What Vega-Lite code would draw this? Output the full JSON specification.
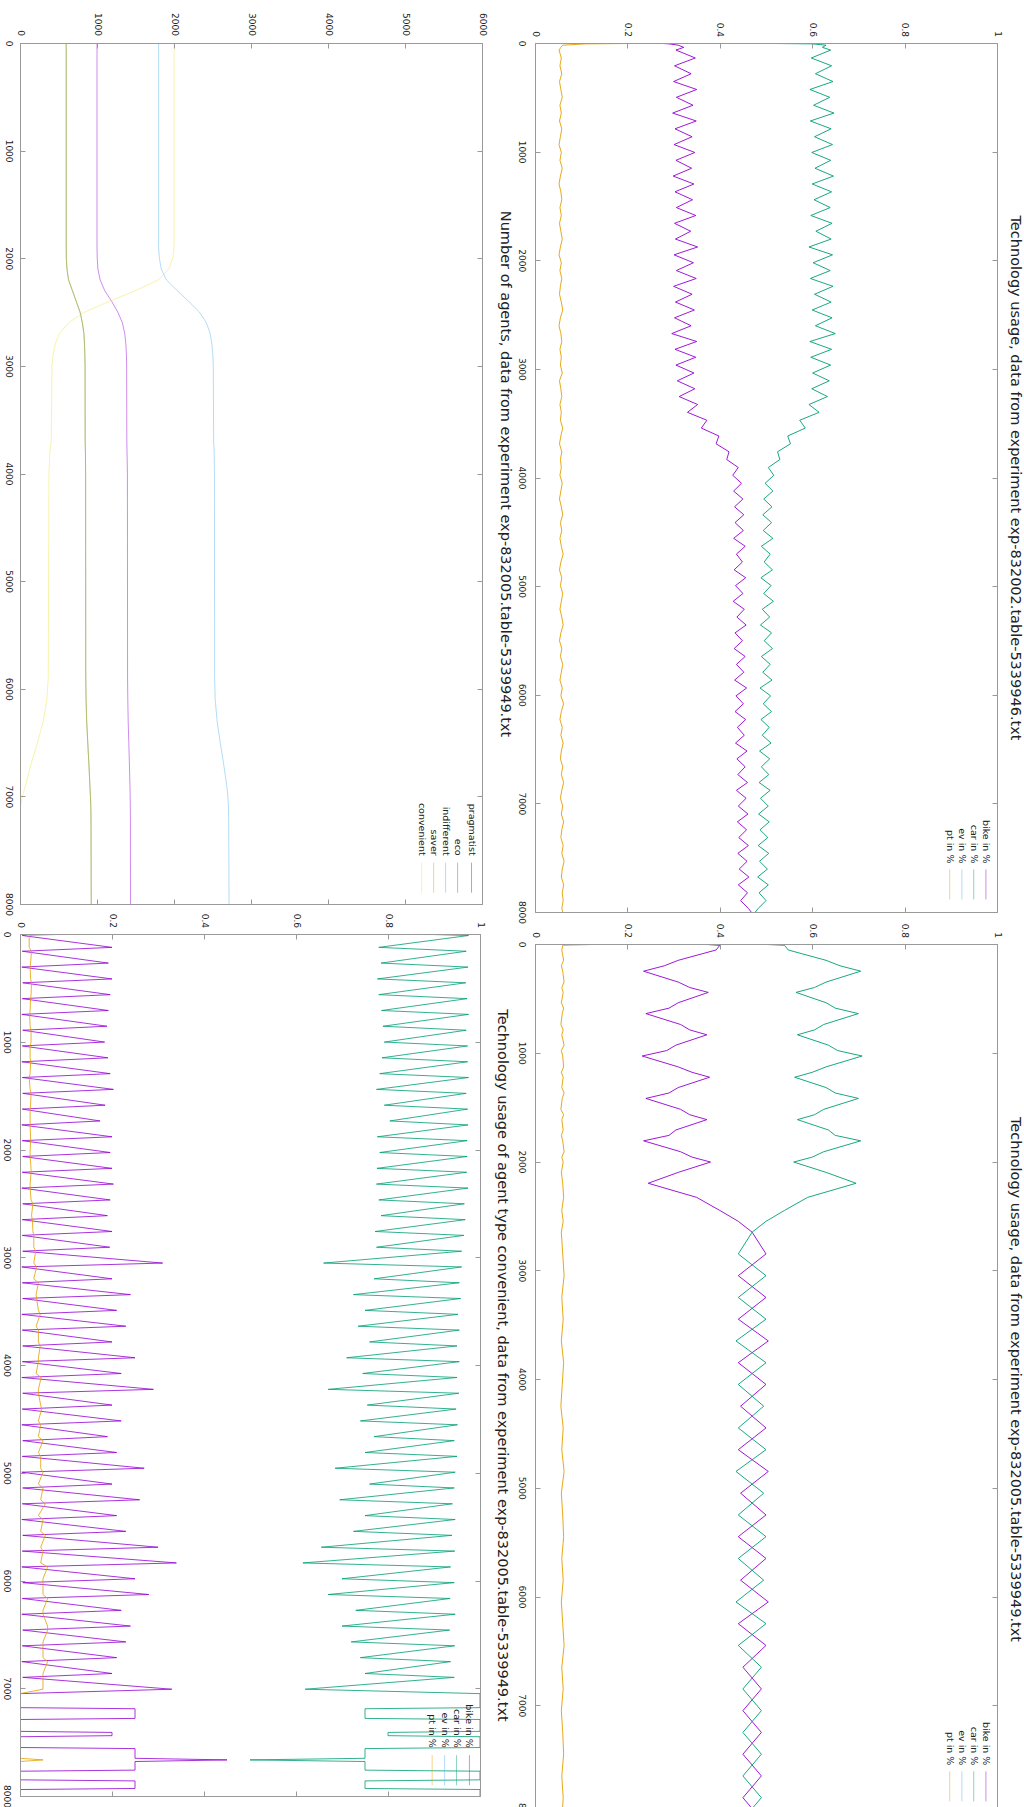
{
"$schema":"https://vega.github.io/schema/vega-lite/v6.json",
"background":"white",
"padding":{"left":1,"top":12,"right":2,"bottom":0},
"config":{"view":{"stroke":null},"axis":{"labelFont":"DejaVu Sans","labelFontSize":9,"labelColor":"#222","titleFont":"DejaVu Sans","titleFontSize":14.5,"titleFontWeight":"normal","titleColor":"#222"}},
"datasets":{
"tl":[
{"t":0,"pragmatist":1000,"eco":600,"indifferent":1800,"saver":600,"convenient":2000},
{"t":1900,"pragmatist":1000,"eco":600,"indifferent":1800,"saver":600,"convenient":2000},
{"t":2000,"pragmatist":1003,"eco":602,"indifferent":1810,"saver":602,"convenient":1983},
{"t":2100,"pragmatist":1012,"eco":610,"indifferent":1835,"saver":610,"convenient":1933},
{"t":2200,"pragmatist":1040,"eco":630,"indifferent":1900,"saver":630,"convenient":1800},
{"t":2300,"pragmatist":1100,"eco":680,"indifferent":2040,"saver":680,"convenient":1500},
{"t":2400,"pragmatist":1190,"eco":730,"indifferent":2190,"saver":730,"convenient":1160},
{"t":2500,"pragmatist":1270,"eco":780,"indifferent":2330,"saver":780,"convenient":840},
{"t":2600,"pragmatist":1330,"eco":810,"indifferent":2420,"saver":810,"convenient":630},
{"t":2700,"pragmatist":1360,"eco":830,"indifferent":2470,"saver":830,"convenient":510},
{"t":2800,"pragmatist":1375,"eco":838,"indifferent":2492,"saver":838,"convenient":457},
{"t":2900,"pragmatist":1382,"eco":842,"indifferent":2505,"saver":842,"convenient":429},
{"t":3000,"pragmatist":1385,"eco":845,"indifferent":2510,"saver":845,"convenient":415},
{"t":3700,"pragmatist":1387,"eco":846,"indifferent":2515,"saver":846,"convenient":406},
{"t":3800,"pragmatist":1390,"eco":850,"indifferent":2522,"saver":850,"convenient":388},
{"t":4000,"pragmatist":1395,"eco":852,"indifferent":2525,"saver":852,"convenient":376},
{"t":5900,"pragmatist":1397,"eco":854,"indifferent":2528,"saver":854,"convenient":367},
{"t":6100,"pragmatist":1400,"eco":858,"indifferent":2535,"saver":858,"convenient":349},
{"t":6300,"pragmatist":1405,"eco":866,"indifferent":2560,"saver":866,"convenient":303},
{"t":6500,"pragmatist":1413,"eco":880,"indifferent":2600,"saver":880,"convenient":227},
{"t":6700,"pragmatist":1421,"eco":895,"indifferent":2645,"saver":895,"convenient":144},
{"t":6900,"pragmatist":1428,"eco":908,"indifferent":2685,"saver":908,"convenient":71},
{"t":7000,"pragmatist":1431,"eco":915,"indifferent":2700,"saver":915,"convenient":30},
{"t":7100,"pragmatist":1433,"eco":920,"indifferent":2707,"saver":920,"convenient":5},
{"t":7200,"pragmatist":1434,"eco":922,"indifferent":2710,"saver":922,"convenient":0},
{"t":8000,"pragmatist":1435,"eco":925,"indifferent":2715,"saver":925,"convenient":0}
],
"tr":[
{"t":0,"bike":0.333,"car":0.333,"ev":0,"pt":0.334},
{"t":3,"bike":0.27,"car":0.48,"ev":0,"pt":0.25},
{"t":8,"bike":0.29,"car":0.6,"ev":0,"pt":0.11},
{"t":20,"bike":0.31,"car":0.63,"ev":0,"pt":0.06},
{"t":40,"bike":0.322,"car":0.622,"ev":0,"pt":0.056},
{"t":65,"bike":0.305,"car":0.64,"ev":0,"pt":0.052},
{"t":138,"bike":0.347,"car":0.598,"ev":0,"pt":0.057},
{"t":210,"bike":0.302,"car":0.642,"ev":0,"pt":0.054},
{"t":283,"bike":0.338,"car":0.607,"ev":0,"pt":0.058},
{"t":355,"bike":0.3,"car":0.645,"ev":0,"pt":0.053},
{"t":428,"bike":0.35,"car":0.595,"ev":0,"pt":0.056},
{"t":500,"bike":0.306,"car":0.638,"ev":0,"pt":0.059},
{"t":573,"bike":0.342,"car":0.603,"ev":0,"pt":0.054},
{"t":645,"bike":0.298,"car":0.647,"ev":0,"pt":0.057},
{"t":718,"bike":0.349,"car":0.596,"ev":0,"pt":0.053},
{"t":790,"bike":0.303,"car":0.641,"ev":0,"pt":0.058},
{"t":863,"bike":0.34,"car":0.605,"ev":0,"pt":0.055},
{"t":935,"bike":0.301,"car":0.644,"ev":0,"pt":0.052},
{"t":1008,"bike":0.346,"car":0.599,"ev":0,"pt":0.057},
{"t":1080,"bike":0.305,"car":0.64,"ev":0,"pt":0.054},
{"t":1153,"bike":0.339,"car":0.606,"ev":0,"pt":0.059},
{"t":1225,"bike":0.299,"car":0.646,"ev":0,"pt":0.055},
{"t":1298,"bike":0.344,"car":0.6,"ev":0,"pt":0.052},
{"t":1370,"bike":0.303,"car":0.642,"ev":0,"pt":0.056},
{"t":1443,"bike":0.341,"car":0.604,"ev":0,"pt":0.058},
{"t":1515,"bike":0.306,"car":0.639,"ev":0,"pt":0.054},
{"t":1588,"bike":0.348,"car":0.597,"ev":0,"pt":0.057},
{"t":1660,"bike":0.302,"car":0.643,"ev":0,"pt":0.053},
{"t":1733,"bike":0.337,"car":0.608,"ev":0,"pt":0.056},
{"t":1805,"bike":0.304,"car":0.641,"ev":0,"pt":0.059},
{"t":1878,"bike":0.352,"car":0.593,"ev":0,"pt":0.055},
{"t":1950,"bike":0.301,"car":0.644,"ev":0,"pt":0.052},
{"t":2023,"bike":0.343,"car":0.602,"ev":0,"pt":0.057},
{"t":2095,"bike":0.306,"car":0.639,"ev":0,"pt":0.054},
{"t":2168,"bike":0.349,"car":0.596,"ev":0,"pt":0.058},
{"t":2240,"bike":0.3,"car":0.645,"ev":0,"pt":0.055},
{"t":2313,"bike":0.34,"car":0.605,"ev":0,"pt":0.053},
{"t":2385,"bike":0.304,"car":0.641,"ev":0,"pt":0.057},
{"t":2458,"bike":0.345,"car":0.6,"ev":0,"pt":0.06},
{"t":2530,"bike":0.302,"car":0.643,"ev":0,"pt":0.055},
{"t":2603,"bike":0.338,"car":0.607,"ev":0,"pt":0.052},
{"t":2675,"bike":0.296,"car":0.65,"ev":0,"pt":0.056},
{"t":2748,"bike":0.35,"car":0.595,"ev":0,"pt":0.058},
{"t":2820,"bike":0.303,"car":0.642,"ev":0,"pt":0.054},
{"t":2893,"bike":0.348,"car":0.597,"ev":0,"pt":0.057},
{"t":2965,"bike":0.305,"car":0.64,"ev":0,"pt":0.055},
{"t":3038,"bike":0.344,"car":0.601,"ev":0,"pt":0.059},
{"t":3110,"bike":0.308,"car":0.637,"ev":0,"pt":0.053},
{"t":3183,"bike":0.346,"car":0.599,"ev":0,"pt":0.056},
{"t":3255,"bike":0.312,"car":0.633,"ev":0,"pt":0.058},
{"t":3328,"bike":0.352,"car":0.593,"ev":0,"pt":0.054},
{"t":3400,"bike":0.33,"car":0.615,"ev":0,"pt":0.057},
{"t":3473,"bike":0.372,"car":0.573,"ev":0,"pt":0.055},
{"t":3545,"bike":0.36,"car":0.585,"ev":0,"pt":0.06},
{"t":3618,"bike":0.398,"car":0.547,"ev":0,"pt":0.056},
{"t":3690,"bike":0.392,"car":0.553,"ev":0,"pt":0.053},
{"t":3763,"bike":0.42,"car":0.525,"ev":0,"pt":0.058},
{"t":3835,"bike":0.415,"car":0.53,"ev":0,"pt":0.055},
{"t":3908,"bike":0.44,"car":0.505,"ev":0,"pt":0.057},
{"t":3980,"bike":0.428,"car":0.517,"ev":0,"pt":0.054},
{"t":4053,"bike":0.447,"car":0.498,"ev":0,"pt":0.059},
{"t":4125,"bike":0.43,"car":0.515,"ev":0,"pt":0.056},
{"t":4198,"bike":0.45,"car":0.495,"ev":0,"pt":0.053},
{"t":4270,"bike":0.432,"car":0.513,"ev":0,"pt":0.057},
{"t":4343,"bike":0.452,"car":0.493,"ev":0,"pt":0.06},
{"t":4415,"bike":0.433,"car":0.512,"ev":0,"pt":0.055},
{"t":4488,"bike":0.451,"car":0.494,"ev":0,"pt":0.058},
{"t":4560,"bike":0.43,"car":0.515,"ev":0,"pt":0.054},
{"t":4633,"bike":0.455,"car":0.49,"ev":0,"pt":0.057},
{"t":4705,"bike":0.436,"car":0.509,"ev":0,"pt":0.061},
{"t":4778,"bike":0.449,"car":0.496,"ev":0,"pt":0.056},
{"t":4850,"bike":0.431,"car":0.514,"ev":0,"pt":0.053},
{"t":4923,"bike":0.456,"car":0.489,"ev":0,"pt":0.058},
{"t":4995,"bike":0.434,"car":0.511,"ev":0,"pt":0.055},
{"t":5068,"bike":0.45,"car":0.495,"ev":0,"pt":0.06},
{"t":5140,"bike":0.429,"car":0.516,"ev":0,"pt":0.057},
{"t":5213,"bike":0.453,"car":0.492,"ev":0,"pt":0.054},
{"t":5285,"bike":0.437,"car":0.508,"ev":0,"pt":0.058},
{"t":5358,"bike":0.457,"car":0.488,"ev":0,"pt":0.061},
{"t":5430,"bike":0.433,"car":0.512,"ev":0,"pt":0.056},
{"t":5503,"bike":0.449,"car":0.496,"ev":0,"pt":0.053},
{"t":5575,"bike":0.431,"car":0.514,"ev":0,"pt":0.058},
{"t":5648,"bike":0.455,"car":0.49,"ev":0,"pt":0.055},
{"t":5720,"bike":0.436,"car":0.509,"ev":0,"pt":0.06},
{"t":5793,"bike":0.452,"car":0.493,"ev":0,"pt":0.057},
{"t":5865,"bike":0.432,"car":0.513,"ev":0,"pt":0.054},
{"t":5938,"bike":0.458,"car":0.487,"ev":0,"pt":0.059},
{"t":6010,"bike":0.435,"car":0.51,"ev":0,"pt":0.056},
{"t":6083,"bike":0.451,"car":0.494,"ev":0,"pt":0.062},
{"t":6155,"bike":0.433,"car":0.512,"ev":0,"pt":0.057},
{"t":6228,"bike":0.456,"car":0.489,"ev":0,"pt":0.054},
{"t":6300,"bike":0.438,"car":0.507,"ev":0,"pt":0.059},
{"t":6373,"bike":0.453,"car":0.492,"ev":0,"pt":0.056},
{"t":6445,"bike":0.434,"car":0.511,"ev":0,"pt":0.061},
{"t":6518,"bike":0.459,"car":0.486,"ev":0,"pt":0.057},
{"t":6590,"bike":0.437,"car":0.508,"ev":0,"pt":0.055},
{"t":6663,"bike":0.455,"car":0.49,"ev":0,"pt":0.06},
{"t":6735,"bike":0.439,"car":0.506,"ev":0,"pt":0.057},
{"t":6808,"bike":0.46,"car":0.485,"ev":0,"pt":0.062},
{"t":6880,"bike":0.436,"car":0.509,"ev":0,"pt":0.058},
{"t":6953,"bike":0.457,"car":0.488,"ev":0,"pt":0.055},
{"t":7025,"bike":0.44,"car":0.505,"ev":0,"pt":0.06},
{"t":7098,"bike":0.461,"car":0.484,"ev":0,"pt":0.057},
{"t":7170,"bike":0.438,"car":0.507,"ev":0,"pt":0.062},
{"t":7243,"bike":0.458,"car":0.487,"ev":0,"pt":0.058},
{"t":7315,"bike":0.441,"car":0.504,"ev":0,"pt":0.056},
{"t":7388,"bike":0.462,"car":0.483,"ev":0,"pt":0.061},
{"t":7460,"bike":0.439,"car":0.506,"ev":0,"pt":0.058},
{"t":7533,"bike":0.459,"car":0.486,"ev":0,"pt":0.063},
{"t":7605,"bike":0.442,"car":0.503,"ev":0,"pt":0.059},
{"t":7678,"bike":0.463,"car":0.482,"ev":0,"pt":0.057},
{"t":7750,"bike":0.44,"car":0.505,"ev":0,"pt":0.062},
{"t":7823,"bike":0.46,"car":0.485,"ev":0,"pt":0.059},
{"t":7895,"bike":0.445,"car":0.5,"ev":0,"pt":0.061},
{"t":7968,"bike":0.462,"car":0.483,"ev":0,"pt":0.058},
{"t":8000,"bike":0.468,"car":0.477,"ev":0,"pt":0.06}
],
"bl":[
{"t":0,"bike":0.333,"car":0.333,"ev":0,"pt":0.334},
{"t":5,"bike":0.02,"car":0.9,"ev":0,"pt":0.08},
{"t":14,"bike":0.005,"car":0.975,"ev":0,"pt":0.02},
{"t":124,"bike":0.2,"car":0.78,"ev":0,"pt":0.02},
{"t":160,"bike":0.005,"car":0.97,"ev":0,"pt":0.025},
{"t":270,"bike":0.192,"car":0.785,"ev":0,"pt":0.023},
{"t":307,"bike":0.004,"car":0.974,"ev":0,"pt":0.022},
{"t":417,"bike":0.2,"car":0.777,"ev":0,"pt":0.023},
{"t":453,"bike":0.006,"car":0.969,"ev":0,"pt":0.025},
{"t":563,"bike":0.196,"car":0.78,"ev":0,"pt":0.024},
{"t":600,"bike":0.005,"car":0.972,"ev":0,"pt":0.023},
{"t":710,"bike":0.192,"car":0.786,"ev":0,"pt":0.022},
{"t":746,"bike":0.004,"car":0.975,"ev":0,"pt":0.021},
{"t":856,"bike":0.189,"car":0.789,"ev":0,"pt":0.022},
{"t":893,"bike":0.006,"car":0.97,"ev":0,"pt":0.024},
{"t":1003,"bike":0.184,"car":0.792,"ev":0,"pt":0.024},
{"t":1039,"bike":0.005,"car":0.973,"ev":0,"pt":0.022},
{"t":1149,"bike":0.191,"car":0.787,"ev":0,"pt":0.022},
{"t":1186,"bike":0.004,"car":0.973,"ev":0,"pt":0.023},
{"t":1296,"bike":0.196,"car":0.782,"ev":0,"pt":0.022},
{"t":1332,"bike":0.005,"car":0.975,"ev":0,"pt":0.02},
{"t":1442,"bike":0.203,"car":0.775,"ev":0,"pt":0.022},
{"t":1479,"bike":0.006,"car":0.97,"ev":0,"pt":0.024},
{"t":1589,"bike":0.185,"car":0.792,"ev":0,"pt":0.023},
{"t":1625,"bike":0.005,"car":0.973,"ev":0,"pt":0.022},
{"t":1735,"bike":0.174,"car":0.804,"ev":0,"pt":0.022},
{"t":1772,"bike":0.004,"car":0.974,"ev":0,"pt":0.022},
{"t":1882,"bike":0.2,"car":0.777,"ev":0,"pt":0.023},
{"t":1918,"bike":0.005,"car":0.972,"ev":0,"pt":0.023},
{"t":2028,"bike":0.196,"car":0.782,"ev":0,"pt":0.022},
{"t":2065,"bike":0.006,"car":0.972,"ev":0,"pt":0.022},
{"t":2175,"bike":0.2,"car":0.776,"ev":0,"pt":0.024},
{"t":2211,"bike":0.005,"car":0.971,"ev":0,"pt":0.024},
{"t":2321,"bike":0.203,"car":0.775,"ev":0,"pt":0.022},
{"t":2358,"bike":0.004,"car":0.974,"ev":0,"pt":0.022},
{"t":2468,"bike":0.196,"car":0.78,"ev":0,"pt":0.024},
{"t":2504,"bike":0.006,"car":0.966,"ev":0,"pt":0.028},
{"t":2614,"bike":0.19,"car":0.785,"ev":0,"pt":0.025},
{"t":2651,"bike":0.005,"car":0.968,"ev":0,"pt":0.027},
{"t":2761,"bike":0.2,"car":0.772,"ev":0,"pt":0.028},
{"t":2797,"bike":0.005,"car":0.965,"ev":0,"pt":0.03},
{"t":2907,"bike":0.195,"car":0.775,"ev":0,"pt":0.03},
{"t":2944,"bike":0.006,"car":0.96,"ev":0,"pt":0.034},
{"t":3054,"bike":0.31,"car":0.66,"ev":0,"pt":0.03},
{"t":3090,"bike":0.004,"car":0.96,"ev":0,"pt":0.036},
{"t":3200,"bike":0.2,"car":0.77,"ev":0,"pt":0.03},
{"t":3237,"bike":0.005,"car":0.955,"ev":0,"pt":0.04},
{"t":3347,"bike":0.24,"car":0.725,"ev":0,"pt":0.035},
{"t":3383,"bike":0.006,"car":0.958,"ev":0,"pt":0.036},
{"t":3493,"bike":0.21,"car":0.75,"ev":0,"pt":0.04},
{"t":3530,"bike":0.004,"car":0.952,"ev":0,"pt":0.044},
{"t":3640,"bike":0.23,"car":0.735,"ev":0,"pt":0.035},
{"t":3676,"bike":0.005,"car":0.955,"ev":0,"pt":0.04},
{"t":3786,"bike":0.2,"car":0.76,"ev":0,"pt":0.04},
{"t":3823,"bike":0.006,"car":0.95,"ev":0,"pt":0.044},
{"t":3933,"bike":0.25,"car":0.71,"ev":0,"pt":0.04},
{"t":3969,"bike":0.005,"car":0.955,"ev":0,"pt":0.04},
{"t":4079,"bike":0.22,"car":0.745,"ev":0,"pt":0.035},
{"t":4116,"bike":0.004,"car":0.95,"ev":0,"pt":0.046},
{"t":4226,"bike":0.29,"car":0.67,"ev":0,"pt":0.04},
{"t":4262,"bike":0.006,"car":0.954,"ev":0,"pt":0.04},
{"t":4372,"bike":0.2,"car":0.755,"ev":0,"pt":0.045},
{"t":4409,"bike":0.005,"car":0.948,"ev":0,"pt":0.047},
{"t":4519,"bike":0.22,"car":0.74,"ev":0,"pt":0.04},
{"t":4555,"bike":0.004,"car":0.951,"ev":0,"pt":0.045},
{"t":4665,"bike":0.19,"car":0.77,"ev":0,"pt":0.04},
{"t":4702,"bike":0.006,"car":0.944,"ev":0,"pt":0.05},
{"t":4812,"bike":0.21,"car":0.75,"ev":0,"pt":0.04},
{"t":4848,"bike":0.005,"car":0.95,"ev":0,"pt":0.045},
{"t":4958,"bike":0.27,"car":0.685,"ev":0,"pt":0.045},
{"t":4995,"bike":0.004,"car":0.946,"ev":0,"pt":0.05},
{"t":5105,"bike":0.2,"car":0.76,"ev":0,"pt":0.04},
{"t":5141,"bike":0.006,"car":0.944,"ev":0,"pt":0.05},
{"t":5251,"bike":0.26,"car":0.695,"ev":0,"pt":0.045},
{"t":5288,"bike":0.005,"car":0.94,"ev":0,"pt":0.055},
{"t":5398,"bike":0.21,"car":0.75,"ev":0,"pt":0.04},
{"t":5434,"bike":0.004,"car":0.946,"ev":0,"pt":0.05},
{"t":5544,"bike":0.23,"car":0.725,"ev":0,"pt":0.045},
{"t":5581,"bike":0.006,"car":0.939,"ev":0,"pt":0.055},
{"t":5691,"bike":0.3,"car":0.655,"ev":0,"pt":0.045},
{"t":5727,"bike":0.005,"car":0.945,"ev":0,"pt":0.05},
{"t":5837,"bike":0.34,"car":0.615,"ev":0,"pt":0.045},
{"t":5874,"bike":0.004,"car":0.936,"ev":0,"pt":0.06},
{"t":5984,"bike":0.25,"car":0.7,"ev":0,"pt":0.05},
{"t":6020,"bike":0.006,"car":0.944,"ev":0,"pt":0.05},
{"t":6130,"bike":0.28,"car":0.67,"ev":0,"pt":0.05},
{"t":6167,"bike":0.005,"car":0.935,"ev":0,"pt":0.06},
{"t":6277,"bike":0.22,"car":0.73,"ev":0,"pt":0.05},
{"t":6313,"bike":0.004,"car":0.946,"ev":0,"pt":0.05},
{"t":6423,"bike":0.24,"car":0.7,"ev":0,"pt":0.06},
{"t":6460,"bike":0.006,"car":0.934,"ev":0,"pt":0.06},
{"t":6570,"bike":0.23,"car":0.72,"ev":0,"pt":0.05},
{"t":6606,"bike":0.005,"car":0.945,"ev":0,"pt":0.05},
{"t":6716,"bike":0.21,"car":0.74,"ev":0,"pt":0.05},
{"t":6753,"bike":0.004,"car":0.936,"ev":0,"pt":0.06},
{"t":6863,"bike":0.2,"car":0.75,"ev":0,"pt":0.05},
{"t":6899,"bike":0.006,"car":0.944,"ev":0,"pt":0.05},
{"t":7009,"bike":0.33,"car":0.62,"ev":0,"pt":0.05},
{"t":7050,"bike":0,"car":1,"ev":0,"pt":0},
{"t":7180,"bike":0,"car":1,"ev":0,"pt":0},
{"t":7190,"bike":0.25,"car":0.75,"ev":0,"pt":0},
{"t":7280,"bike":0.25,"car":0.75,"ev":0,"pt":0},
{"t":7290,"bike":0,"car":1,"ev":0,"pt":0},
{"t":7400,"bike":0,"car":1,"ev":0,"pt":0},
{"t":7410,"bike":0.2,"car":0.8,"ev":0,"pt":0},
{"t":7440,"bike":0.2,"car":0.8,"ev":0,"pt":0},
{"t":7450,"bike":0,"car":1,"ev":0,"pt":0},
{"t":7550,"bike":0,"car":1,"ev":0,"pt":0},
{"t":7560,"bike":0.25,"car":0.75,"ev":0,"pt":0},
{"t":7650,"bike":0.25,"car":0.75,"ev":0,"pt":0},
{"t":7665,"bike":0.45,"car":0.5,"ev":0,"pt":0.05},
{"t":7680,"bike":0.25,"car":0.75,"ev":0,"pt":0},
{"t":7760,"bike":0.25,"car":0.75,"ev":0,"pt":0},
{"t":7770,"bike":0,"car":1,"ev":0,"pt":0},
{"t":7850,"bike":0,"car":1,"ev":0,"pt":0},
{"t":7860,"bike":0.25,"car":0.75,"ev":0,"pt":0},
{"t":7930,"bike":0.25,"car":0.75,"ev":0,"pt":0},
{"t":7940,"bike":0,"car":1,"ev":0,"pt":0},
{"t":8000,"bike":0,"car":1,"ev":0,"pt":0}
],
"br":[
{"t":0,"bike":0.333,"car":0.333,"ev":0,"pt":0.334},
{"t":4,"bike":0.37,"car":0.5,"ev":0,"pt":0.13},
{"t":12,"bike":0.4,"car":0.54,"ev":0,"pt":0.06},
{"t":55,"bike":0.392,"car":0.548,"ev":0,"pt":0.058},
{"t":150,"bike":0.31,"car":0.63,"ev":0,"pt":0.062},
{"t":200,"bike":0.28,"car":0.66,"ev":0,"pt":0.057},
{"t":250,"bike":0.235,"car":0.705,"ev":0,"pt":0.06},
{"t":350,"bike":0.31,"car":0.63,"ev":0,"pt":0.063},
{"t":400,"bike":0.335,"car":0.605,"ev":0,"pt":0.058},
{"t":445,"bike":0.375,"car":0.565,"ev":0,"pt":0.061},
{"t":540,"bike":0.31,"car":0.63,"ev":0,"pt":0.057},
{"t":590,"bike":0.29,"car":0.65,"ev":0,"pt":0.062},
{"t":640,"bike":0.24,"car":0.7,"ev":0,"pt":0.059},
{"t":740,"bike":0.315,"car":0.625,"ev":0,"pt":0.056},
{"t":790,"bike":0.335,"car":0.605,"ev":0,"pt":0.061},
{"t":835,"bike":0.372,"car":0.568,"ev":0,"pt":0.058},
{"t":930,"bike":0.305,"car":0.635,"ev":0,"pt":0.063},
{"t":980,"bike":0.285,"car":0.655,"ev":0,"pt":0.057},
{"t":1030,"bike":0.232,"car":0.708,"ev":0,"pt":0.06},
{"t":1130,"bike":0.31,"car":0.63,"ev":0,"pt":0.062},
{"t":1180,"bike":0.34,"car":0.6,"ev":0,"pt":0.057},
{"t":1225,"bike":0.378,"car":0.562,"ev":0,"pt":0.061},
{"t":1320,"bike":0.31,"car":0.63,"ev":0,"pt":0.058},
{"t":1370,"bike":0.29,"car":0.65,"ev":0,"pt":0.063},
{"t":1420,"bike":0.24,"car":0.7,"ev":0,"pt":0.059},
{"t":1520,"bike":0.315,"car":0.625,"ev":0,"pt":0.056},
{"t":1570,"bike":0.335,"car":0.605,"ev":0,"pt":0.062},
{"t":1615,"bike":0.372,"car":0.568,"ev":0,"pt":0.058},
{"t":1710,"bike":0.305,"car":0.635,"ev":0,"pt":0.061},
{"t":1760,"bike":0.29,"car":0.65,"ev":0,"pt":0.057},
{"t":1810,"bike":0.235,"car":0.705,"ev":0,"pt":0.06},
{"t":1910,"bike":0.315,"car":0.625,"ev":0,"pt":0.063},
{"t":1960,"bike":0.34,"car":0.6,"ev":0,"pt":0.058},
{"t":2005,"bike":0.38,"car":0.56,"ev":0,"pt":0.061},
{"t":2100,"bike":0.31,"car":0.63,"ev":0,"pt":0.057},
{"t":2200,"bike":0.245,"car":0.695,"ev":0,"pt":0.06},
{"t":2330,"bike":0.35,"car":0.59,"ev":0,"pt":0.062},
{"t":2450,"bike":0.4,"car":0.54,"ev":0,"pt":0.058},
{"t":2550,"bike":0.44,"car":0.5,"ev":0,"pt":0.061},
{"t":2650,"bike":0.47,"car":0.47,"ev":0,"pt":0.057},
{"t":2850,"bike":0.5,"car":0.44,"ev":0,"pt":0.06},
{"t":3050,"bike":0.44,"car":0.5,"ev":0,"pt":0.063},
{"t":3250,"bike":0.5,"car":0.44,"ev":0,"pt":0.058},
{"t":3450,"bike":0.44,"car":0.5,"ev":0,"pt":0.061},
{"t":3650,"bike":0.505,"car":0.435,"ev":0,"pt":0.057},
{"t":3850,"bike":0.44,"car":0.5,"ev":0,"pt":0.062},
{"t":4050,"bike":0.5,"car":0.44,"ev":0,"pt":0.059},
{"t":4250,"bike":0.445,"car":0.495,"ev":0,"pt":0.056},
{"t":4450,"bike":0.5,"car":0.44,"ev":0,"pt":0.061},
{"t":4650,"bike":0.44,"car":0.5,"ev":0,"pt":0.058},
{"t":4850,"bike":0.505,"car":0.435,"ev":0,"pt":0.063},
{"t":5050,"bike":0.445,"car":0.495,"ev":0,"pt":0.057},
{"t":5250,"bike":0.5,"car":0.44,"ev":0,"pt":0.06},
{"t":5450,"bike":0.44,"car":0.5,"ev":0,"pt":0.062},
{"t":5650,"bike":0.5,"car":0.44,"ev":0,"pt":0.058},
{"t":5850,"bike":0.445,"car":0.495,"ev":0,"pt":0.061},
{"t":6050,"bike":0.505,"car":0.435,"ev":0,"pt":0.057},
{"t":6250,"bike":0.44,"car":0.5,"ev":0,"pt":0.06},
{"t":6450,"bike":0.5,"car":0.44,"ev":0,"pt":0.063},
{"t":6650,"bike":0.45,"car":0.49,"ev":0,"pt":0.058},
{"t":6850,"bike":0.49,"car":0.45,"ev":0,"pt":0.061},
{"t":7050,"bike":0.45,"car":0.49,"ev":0,"pt":0.057},
{"t":7250,"bike":0.49,"car":0.45,"ev":0,"pt":0.06},
{"t":7450,"bike":0.45,"car":0.49,"ev":0,"pt":0.062},
{"t":7650,"bike":0.49,"car":0.45,"ev":0,"pt":0.058},
{"t":7850,"bike":0.45,"car":0.49,"ev":0,"pt":0.061},
{"t":8000,"bike":0.48,"car":0.46,"ev":0,"pt":0.059}
]
},
"spacing":3,
"hconcat":[
{"spacing":-3,"vconcat":[
{"width":462,"height":861,
"data":{"name":"tl"},
"resolve":{"axis":{"x":"independent","y":"independent"}},
"layer":[
{"transform":[{"fold":["pragmatist","eco","indifferent","saver","convenient"],"as":["series","value"]}],
"mark":{"type":"line","strokeWidth":1,"opacity":0.45,"clip":true},
"encoding":{
"x":{"field":"value","type":"quantitative","scale":{"domain":[0,6000],"nice":false,"zero":false},"axis":{"orient":"top","values":[0,1000,2000,3000,4000,5000,6000],"format":"d","labelAngle":90,"labelAlign":"right","labelBaseline":"middle","labelPadding":7.5,"ticks":false,"domain":false,"grid":false,"title":null,"labelFlush":false,"labelOverlap":false}},
"y":{"field":"t","type":"quantitative","scale":{"domain":[0,8000],"nice":false,"zero":false,"reverse":true},"axis":{"orient":"left","values":[0,1000,2000,3000,4000,5000,6000,7000,8000],"format":"d","labelAngle":90,"labelAlign":"center","labelBaseline":"top","labelPadding":7.5,"ticks":false,"domain":false,"grid":false,"title":null,"labelFlush":false,"labelOverlap":false}},
"color":{"field":"series","type":"nominal","scale":{"domain":["pragmatist","eco","indifferent","saver","convenient"],"range":["#9400d3","#009e73","#56b4e9","#e69f00","#f0e442"]},"legend":null},
"order":{"field":"t","type":"quantitative"}}},
{"data":{"values":[{}]},"mark":{"type":"point","opacity":0},"encoding":{
"x":{"datum":0,"type":"quantitative","axis":{"orient":"top","values":[0,1000,2000,3000,4000,5000,6000],"labels":false,"tickSize":-5,"tickColor":"#999","domainColor":"#999","grid":false,"title":null,"zindex":1}},
"y":{"datum":0,"type":"quantitative","axis":{"orient":"left","values":[0,1000,2000,3000,4000,5000,6000,7000,8000],"labels":false,"tickSize":-5,"tickColor":"#999","domainColor":"#999","grid":false,"title":null,"zindex":1}}}},
{"data":{"values":[{}]},"mark":{"type":"point","opacity":0},"encoding":{
"x":{"datum":0,"type":"quantitative","axis":{"orient":"bottom","values":[0,1000,2000,3000,4000,5000,6000],"labels":false,"tickSize":-5,"tickColor":"#999","domainColor":"#999","grid":false,"title":null,"zindex":1}},
"y":{"datum":0,"type":"quantitative","axis":{"orient":"right","values":[0,1000,2000,3000,4000,5000,6000,7000,8000],"labels":false,"tickSize":-5,"tickColor":"#999","domainColor":"#999","grid":false,"zindex":1,"title":"Number of agents, data from experiment exp-832005.table-5339949.txt","titlePadding":15}}}},
{"data":{"values":[{}]},"mark":{"type":"text","angle":90,"align":"right","baseline":"middle","fontSize":9.5,"font":"DejaVu Sans","color":"#222"},"encoding":{"x":{"datum":5864,"type":"quantitative","axis":null},"y":{"datum":7551,"type":"quantitative","axis":null},"text":{"value":"pragmatist"}}},
{"data":{"values":[{}]},"mark":{"type":"text","angle":90,"align":"right","baseline":"middle","fontSize":9.5,"font":"DejaVu Sans","color":"#222"},"encoding":{"x":{"datum":5683,"type":"quantitative","axis":null},"y":{"datum":7551,"type":"quantitative","axis":null},"text":{"value":"eco"}}},
{"data":{"values":[{}]},"mark":{"type":"text","angle":90,"align":"right","baseline":"middle","fontSize":9.5,"font":"DejaVu Sans","color":"#222"},"encoding":{"x":{"datum":5527,"type":"quantitative","axis":null},"y":{"datum":7551,"type":"quantitative","axis":null},"text":{"value":"indifferent"}}},
{"data":{"values":[{}]},"mark":{"type":"text","angle":90,"align":"right","baseline":"middle","fontSize":9.5,"font":"DejaVu Sans","color":"#222"},"encoding":{"x":{"datum":5372,"type":"quantitative","axis":null},"y":{"datum":7551,"type":"quantitative","axis":null},"text":{"value":"saver"}}},
{"data":{"values":[{}]},"mark":{"type":"text","angle":90,"align":"right","baseline":"middle","fontSize":9.5,"font":"DejaVu Sans","color":"#222"},"encoding":{"x":{"datum":5216,"type":"quantitative","axis":null},"y":{"datum":7551,"type":"quantitative","axis":null},"text":{"value":"convenient"}}},
{"data":{"values":[{}]},"mark":{"type":"rule","color":"#9400d3","opacity":0.45},"encoding":{"x":{"datum":5864,"type":"quantitative","axis":null},"y":{"datum":7616,"type":"quantitative","axis":null},"y2":{"datum":7895}}},
{"data":{"values":[{}]},"mark":{"type":"rule","color":"#009e73","opacity":0.45},"encoding":{"x":{"datum":5683,"type":"quantitative","axis":null},"y":{"datum":7616,"type":"quantitative","axis":null},"y2":{"datum":7895}}},
{"data":{"values":[{}]},"mark":{"type":"rule","color":"#56b4e9","opacity":0.45},"encoding":{"x":{"datum":5527,"type":"quantitative","axis":null},"y":{"datum":7616,"type":"quantitative","axis":null},"y2":{"datum":7895}}},
{"data":{"values":[{}]},"mark":{"type":"rule","color":"#e69f00","opacity":0.45},"encoding":{"x":{"datum":5372,"type":"quantitative","axis":null},"y":{"datum":7616,"type":"quantitative","axis":null},"y2":{"datum":7895}}},
{"data":{"values":[{}]},"mark":{"type":"rule","color":"#f0e442","opacity":0.45},"encoding":{"x":{"datum":5216,"type":"quantitative","axis":null},"y":{"datum":7616,"type":"quantitative","axis":null},"y2":{"datum":7895}}}
]},
{"width":460,"height":862,
"data":{"name":"bl"},
"resolve":{"axis":{"x":"independent","y":"independent"}},
"layer":[
{"transform":[{"fold":["bike","car","ev","pt"],"as":["series","value"]}],
"mark":{"type":"line","strokeWidth":1,"opacity":0.8,"clip":true},
"encoding":{
"x":{"field":"value","type":"quantitative","scale":{"domain":[0,1],"nice":false,"zero":false},"axis":{"orient":"top","values":[0,0.2,0.4,0.6,0.8,1],"format":"~g","labelAngle":90,"labelAlign":"right","labelBaseline":"middle","labelPadding":6.5,"ticks":false,"domain":false,"grid":false,"title":null,"labelFlush":false,"labelOverlap":false}},
"y":{"field":"t","type":"quantitative","scale":{"domain":[0,8000],"nice":false,"zero":false,"reverse":true},"axis":{"orient":"left","values":[0,1000,2000,3000,4000,5000,6000,7000,8000],"format":"d","labelAngle":90,"labelAlign":"center","labelBaseline":"top","labelPadding":10,"ticks":false,"domain":false,"grid":false,"title":null,"labelFlush":false,"labelOverlap":false}},
"color":{"field":"series","type":"nominal","scale":{"domain":["bike","car","ev","pt"],"range":["#9400d3","#009e73","#56b4e9","#e69f00"]},"legend":null},
"order":{"field":"t","type":"quantitative"}}},
{"data":{"values":[{}]},"mark":{"type":"point","opacity":0},"encoding":{
"x":{"datum":0,"type":"quantitative","axis":{"orient":"top","values":[0,0.2,0.4,0.6,0.8,1],"labels":false,"tickSize":-5,"tickColor":"#999","domainColor":"#999","grid":false,"title":null,"zindex":1}},
"y":{"datum":0,"type":"quantitative","axis":{"orient":"left","values":[0,1000,2000,3000,4000,5000,6000,7000,8000],"labels":false,"tickSize":-5,"tickColor":"#999","domainColor":"#999","grid":false,"title":null,"zindex":1}}}},
{"data":{"values":[{}]},"mark":{"type":"point","opacity":0},"encoding":{
"x":{"datum":0,"type":"quantitative","axis":{"orient":"bottom","values":[0,0.2,0.4,0.6,0.8,1],"labels":false,"tickSize":-5,"tickColor":"#999","domainColor":"#999","grid":false,"title":null,"zindex":1}},
"y":{"datum":0,"type":"quantitative","axis":{"orient":"right","values":[0,1000,2000,3000,4000,5000,6000,7000,8000],"labels":false,"tickSize":-5,"tickColor":"#999","domainColor":"#999","grid":false,"zindex":1,"title":"Technology usage of agent type convenient, data from experiment exp-832005.table-5339949.txt","titlePadding":14}}}},
{"data":{"values":[{}]},"mark":{"type":"text","angle":90,"align":"right","baseline":"middle","fontSize":9.5,"font":"DejaVu Sans","color":"#222"},"encoding":{"x":{"datum":0.977,"type":"quantitative","axis":null},"y":{"datum":7552,"type":"quantitative","axis":null},"text":{"value":"bike in %"}}},
{"data":{"values":[{}]},"mark":{"type":"text","angle":90,"align":"right","baseline":"middle","fontSize":9.5,"font":"DejaVu Sans","color":"#222"},"encoding":{"x":{"datum":0.949,"type":"quantitative","axis":null},"y":{"datum":7552,"type":"quantitative","axis":null},"text":{"value":"car in %"}}},
{"data":{"values":[{}]},"mark":{"type":"text","angle":90,"align":"right","baseline":"middle","fontSize":9.5,"font":"DejaVu Sans","color":"#222"},"encoding":{"x":{"datum":0.923,"type":"quantitative","axis":null},"y":{"datum":7552,"type":"quantitative","axis":null},"text":{"value":"ev in %"}}},
{"data":{"values":[{}]},"mark":{"type":"text","angle":90,"align":"right","baseline":"middle","fontSize":9.5,"font":"DejaVu Sans","color":"#222"},"encoding":{"x":{"datum":0.896,"type":"quantitative","axis":null},"y":{"datum":7552,"type":"quantitative","axis":null},"text":{"value":"pt in %"}}},
{"data":{"values":[{}]},"mark":{"type":"rule","color":"#9400d3","opacity":0.45},"encoding":{"x":{"datum":0.977,"type":"quantitative","axis":null},"y":{"datum":7621,"type":"quantitative","axis":null},"y2":{"datum":7900}}},
{"data":{"values":[{}]},"mark":{"type":"rule","color":"#009e73","opacity":0.45},"encoding":{"x":{"datum":0.949,"type":"quantitative","axis":null},"y":{"datum":7621,"type":"quantitative","axis":null},"y2":{"datum":7900}}},
{"data":{"values":[{}]},"mark":{"type":"rule","color":"#56b4e9","opacity":0.45},"encoding":{"x":{"datum":0.923,"type":"quantitative","axis":null},"y":{"datum":7621,"type":"quantitative","axis":null},"y2":{"datum":7900}}},
{"data":{"values":[{}]},"mark":{"type":"rule","color":"#e69f00","opacity":0.45},"encoding":{"x":{"datum":0.896,"type":"quantitative","axis":null},"y":{"datum":7621,"type":"quantitative","axis":null},"y2":{"datum":7900}}}
]}
]},
{"spacing":-1,"vconcat":[
{"width":462,"height":869,
"data":{"name":"tr"},
"resolve":{"axis":{"x":"independent","y":"independent"}},
"layer":[
{"transform":[{"fold":["bike","car","ev","pt"],"as":["series","value"]}],
"mark":{"type":"line","strokeWidth":1,"opacity":0.9,"clip":true},
"encoding":{
"x":{"field":"value","type":"quantitative","scale":{"domain":[0,1],"nice":false,"zero":false},"axis":{"orient":"top","values":[0,0.2,0.4,0.6,0.8,1],"format":"~g","labelAngle":90,"labelAlign":"right","labelBaseline":"middle","labelPadding":6.5,"ticks":false,"domain":false,"grid":false,"title":null,"labelFlush":false,"labelOverlap":false}},
"y":{"field":"t","type":"quantitative","scale":{"domain":[0,8000],"nice":false,"zero":false,"reverse":true},"axis":{"orient":"left","values":[0,1000,2000,3000,4000,5000,6000,7000,8000],"format":"d","labelAngle":90,"labelAlign":"center","labelBaseline":"top","labelPadding":10,"ticks":false,"domain":false,"grid":false,"title":null,"labelFlush":false,"labelOverlap":false}},
"color":{"field":"series","type":"nominal","scale":{"domain":["bike","car","ev","pt"],"range":["#9400d3","#009e73","#56b4e9","#e69f00"]},"legend":null},
"order":{"field":"t","type":"quantitative"}}},
{"data":{"values":[{}]},"mark":{"type":"point","opacity":0},"encoding":{
"x":{"datum":0,"type":"quantitative","axis":{"orient":"top","values":[0,0.2,0.4,0.6,0.8,1],"labels":false,"tickSize":-5,"tickColor":"#999","domainColor":"#999","grid":false,"title":null,"zindex":1}},
"y":{"datum":0,"type":"quantitative","axis":{"orient":"left","values":[0,1000,2000,3000,4000,5000,6000,7000,8000],"labels":false,"tickSize":-5,"tickColor":"#999","domainColor":"#999","grid":false,"title":null,"zindex":1}}}},
{"data":{"values":[{}]},"mark":{"type":"point","opacity":0},"encoding":{
"x":{"datum":0,"type":"quantitative","axis":{"orient":"bottom","values":[0,0.2,0.4,0.6,0.8,1],"labels":false,"tickSize":-5,"tickColor":"#999","domainColor":"#999","grid":false,"title":null,"zindex":1}},
"y":{"datum":0,"type":"quantitative","axis":{"orient":"right","values":[0,1000,2000,3000,4000,5000,6000,7000,8000],"labels":false,"tickSize":-5,"tickColor":"#999","domainColor":"#999","grid":false,"zindex":1,"title":"Technology usage, data from experiment exp-832002.table-5339946.txt","titlePadding":10}}}},
{"data":{"values":[{}]},"mark":{"type":"text","angle":90,"align":"right","baseline":"middle","fontSize":9.5,"font":"DejaVu Sans","color":"#222"},"encoding":{"x":{"datum":0.976,"type":"quantitative","axis":null},"y":{"datum":7553,"type":"quantitative","axis":null},"text":{"value":"bike in %"}}},
{"data":{"values":[{}]},"mark":{"type":"text","angle":90,"align":"right","baseline":"middle","fontSize":9.5,"font":"DejaVu Sans","color":"#222"},"encoding":{"x":{"datum":0.9496,"type":"quantitative","axis":null},"y":{"datum":7553,"type":"quantitative","axis":null},"text":{"value":"car in %"}}},
{"data":{"values":[{}]},"mark":{"type":"text","angle":90,"align":"right","baseline":"middle","fontSize":9.5,"font":"DejaVu Sans","color":"#222"},"encoding":{"x":{"datum":0.924,"type":"quantitative","axis":null},"y":{"datum":7553,"type":"quantitative","axis":null},"text":{"value":"ev in %"}}},
{"data":{"values":[{}]},"mark":{"type":"text","angle":90,"align":"right","baseline":"middle","fontSize":9.5,"font":"DejaVu Sans","color":"#222"},"encoding":{"x":{"datum":0.8976,"type":"quantitative","axis":null},"y":{"datum":7553,"type":"quantitative","axis":null},"text":{"value":"pt in %"}}},
{"data":{"values":[{}]},"mark":{"type":"rule","color":"#9400d3","opacity":0.45},"encoding":{"x":{"datum":0.976,"type":"quantitative","axis":null},"y":{"datum":7608,"type":"quantitative","axis":null},"y2":{"datum":7884}}},
{"data":{"values":[{}]},"mark":{"type":"rule","color":"#009e73","opacity":0.45},"encoding":{"x":{"datum":0.9496,"type":"quantitative","axis":null},"y":{"datum":7608,"type":"quantitative","axis":null},"y2":{"datum":7884}}},
{"data":{"values":[{}]},"mark":{"type":"rule","color":"#56b4e9","opacity":0.45},"encoding":{"x":{"datum":0.924,"type":"quantitative","axis":null},"y":{"datum":7608,"type":"quantitative","axis":null},"y2":{"datum":7884}}},
{"data":{"values":[{}]},"mark":{"type":"rule","color":"#e69f00","opacity":0.45},"encoding":{"x":{"datum":0.8976,"type":"quantitative","axis":null},"y":{"datum":7608,"type":"quantitative","axis":null},"y2":{"datum":7884}}}
]},
{"width":462,"height":870,
"data":{"name":"br"},
"resolve":{"axis":{"x":"independent","y":"independent"}},
"layer":[
{"transform":[{"fold":["bike","car","ev","pt"],"as":["series","value"]}],
"mark":{"type":"line","strokeWidth":1,"opacity":0.9,"clip":true},
"encoding":{
"x":{"field":"value","type":"quantitative","scale":{"domain":[0,1],"nice":false,"zero":false},"axis":{"orient":"top","values":[0,0.2,0.4,0.6,0.8,1],"format":"~g","labelAngle":90,"labelAlign":"right","labelBaseline":"middle","labelPadding":6.5,"ticks":false,"domain":false,"grid":false,"title":null,"labelFlush":false,"labelOverlap":false}},
"y":{"field":"t","type":"quantitative","scale":{"domain":[0,8000],"nice":false,"zero":false,"reverse":true},"axis":{"orient":"left","values":[0,1000,2000,3000,4000,5000,6000,7000,8000],"format":"d","labelAngle":90,"labelAlign":"center","labelBaseline":"top","labelPadding":10,"ticks":false,"domain":false,"grid":false,"title":null,"labelFlush":false,"labelOverlap":false}},
"color":{"field":"series","type":"nominal","scale":{"domain":["bike","car","ev","pt"],"range":["#9400d3","#009e73","#56b4e9","#e69f00"]},"legend":null},
"order":{"field":"t","type":"quantitative"}}},
{"data":{"values":[{}]},"mark":{"type":"point","opacity":0},"encoding":{
"x":{"datum":0,"type":"quantitative","axis":{"orient":"top","values":[0,0.2,0.4,0.6,0.8,1],"labels":false,"tickSize":-5,"tickColor":"#999","domainColor":"#999","grid":false,"title":null,"zindex":1}},
"y":{"datum":0,"type":"quantitative","axis":{"orient":"left","values":[0,1000,2000,3000,4000,5000,6000,7000,8000],"labels":false,"tickSize":-5,"tickColor":"#999","domainColor":"#999","grid":false,"title":null,"zindex":1}}}},
{"data":{"values":[{}]},"mark":{"type":"point","opacity":0},"encoding":{
"x":{"datum":0,"type":"quantitative","axis":{"orient":"bottom","values":[0,0.2,0.4,0.6,0.8,1],"labels":false,"tickSize":-5,"tickColor":"#999","domainColor":"#999","grid":false,"title":null,"zindex":1}},
"y":{"datum":0,"type":"quantitative","axis":{"orient":"right","values":[0,1000,2000,3000,4000,5000,6000,7000,8000],"labels":false,"tickSize":-5,"tickColor":"#999","domainColor":"#999","grid":false,"zindex":1,"title":"Technology usage, data from experiment exp-832005.table-5339949.txt","titlePadding":10}}}},
{"data":{"values":[{}]},"mark":{"type":"text","angle":90,"align":"right","baseline":"middle","fontSize":9.5,"font":"DejaVu Sans","color":"#222"},"encoding":{"x":{"datum":0.976,"type":"quantitative","axis":null},"y":{"datum":7553,"type":"quantitative","axis":null},"text":{"value":"bike in %"}}},
{"data":{"values":[{}]},"mark":{"type":"text","angle":90,"align":"right","baseline":"middle","fontSize":9.5,"font":"DejaVu Sans","color":"#222"},"encoding":{"x":{"datum":0.9496,"type":"quantitative","axis":null},"y":{"datum":7553,"type":"quantitative","axis":null},"text":{"value":"car in %"}}},
{"data":{"values":[{}]},"mark":{"type":"text","angle":90,"align":"right","baseline":"middle","fontSize":9.5,"font":"DejaVu Sans","color":"#222"},"encoding":{"x":{"datum":0.924,"type":"quantitative","axis":null},"y":{"datum":7553,"type":"quantitative","axis":null},"text":{"value":"ev in %"}}},
{"data":{"values":[{}]},"mark":{"type":"text","angle":90,"align":"right","baseline":"middle","fontSize":9.5,"font":"DejaVu Sans","color":"#222"},"encoding":{"x":{"datum":0.8976,"type":"quantitative","axis":null},"y":{"datum":7553,"type":"quantitative","axis":null},"text":{"value":"pt in %"}}},
{"data":{"values":[{}]},"mark":{"type":"rule","color":"#9400d3","opacity":0.45},"encoding":{"x":{"datum":0.976,"type":"quantitative","axis":null},"y":{"datum":7608,"type":"quantitative","axis":null},"y2":{"datum":7884}}},
{"data":{"values":[{}]},"mark":{"type":"rule","color":"#009e73","opacity":0.45},"encoding":{"x":{"datum":0.9496,"type":"quantitative","axis":null},"y":{"datum":7608,"type":"quantitative","axis":null},"y2":{"datum":7884}}},
{"data":{"values":[{}]},"mark":{"type":"rule","color":"#56b4e9","opacity":0.45},"encoding":{"x":{"datum":0.924,"type":"quantitative","axis":null},"y":{"datum":7608,"type":"quantitative","axis":null},"y2":{"datum":7884}}},
{"data":{"values":[{}]},"mark":{"type":"rule","color":"#e69f00","opacity":0.45},"encoding":{"x":{"datum":0.8976,"type":"quantitative","axis":null},"y":{"datum":7608,"type":"quantitative","axis":null},"y2":{"datum":7884}}}
]}
]}
]
}
